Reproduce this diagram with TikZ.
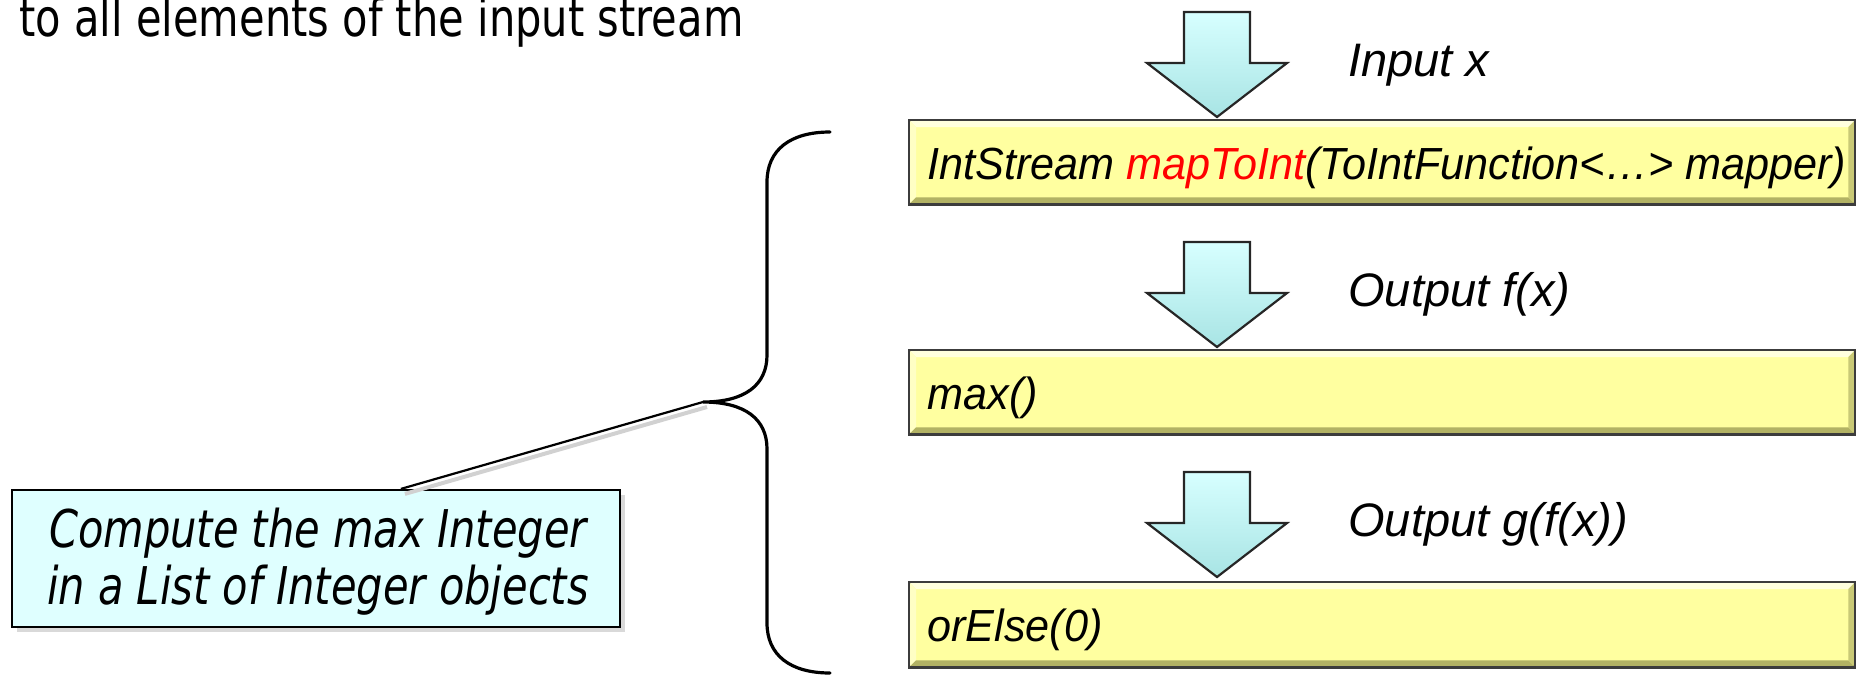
\documentclass[tikz,border=0pt]{standalone}
\usepackage{fontspec}
\setmainfont{Liberation Sans}
\newfontfamily\tahoma[FakeStretch=0.8]{DejaVu Sans}
\newfontfamily\boxfont[FakeStretch=0.96]{Liberation Sans}
\usetikzlibrary{calc,shadows}
\definecolor{boxyellow}{RGB}{255,255,160}
\definecolor{bevlight}{RGB}{255,255,222}
\definecolor{bevdark}{RGB}{178,178,100}
\definecolor{boxline}{RGB}{60,60,60}
\definecolor{calloutfill}{RGB}{223,255,255}
\definecolor{arrowlight}{RGB}{215,255,255}
\definecolor{arrowdark}{RGB}{168,228,228}
\definecolor{mapred}{RGB}{255,0,0}
\newcommand\yellowbevel[1]{%
  \fill[bevlight] (#1.north west) -- (#1.north east) -- ($(#1.north east)+(-7,7)$) -- ($(#1.north west)+(7,7)$) -- cycle;
  \fill[bevlight!60!boxyellow] (#1.north west) -- ($(#1.north west)+(7,7)$) -- ($(#1.south west)+(7,-7)$) -- (#1.south west) -- cycle;
  \fill[bevdark] (#1.south west) -- ($(#1.south west)+(7,-7)$) -- ($(#1.south east)+(-7,-7)$) -- (#1.south east) -- cycle;
  \fill[bevdark!70!boxyellow] (#1.north east) -- ($(#1.north east)+(-7,7)$) -- ($(#1.south east)+(-7,-7)$) -- (#1.south east) -- cycle;
  \draw[boxline,line width=1.2pt] (#1.north west) rectangle (#1.south east);
}
\newcommand\blockarrow[2]{% center x, top y
  \shadedraw[top color=arrowlight, bottom color=arrowdark, draw=black!85, line width=1.1pt, line join=miter]
    (#1-33,#2) -- (#1+33,#2) -- (#1+33,#2+51) -- (#1+70,#2+51) -- (#1,#2+105)
    -- (#1-70,#2+51) -- (#1-33,#2+51) -- cycle;
}
\begin{document}
\begin{tikzpicture}[x=0.5pt,y=-0.5pt,
  opbox/.style={draw=boxline, fill=boxyellow, line width=1.2pt, inner sep=0pt, anchor=north west,
     minimum width=472pt, minimum height=41pt,
     drop shadow={shadow xshift=1.5pt, shadow yshift=-1.5pt, opacity=0.35}},
  optext/.style={anchor=base west, inner sep=0pt, font=\boxfont\itshape\fontsize{22.5}{27}\selectfont},
  flowlabel/.style={anchor=base west, inner sep=0pt, font=\itshape\fontsize{23.5}{28}\selectfont},
  callout/.style={draw=black, fill=calloutfill, line width=1.1pt, minimum width=304pt, minimum height=68.5pt,
     inner sep=0pt, drop shadow={shadow xshift=2.5pt, shadow yshift=-2.5pt, opacity=0.3}},
  callouttext/.style={align=center, inner sep=0pt, font=\tahoma\itshape\fontsize{26}{28.5}\selectfont},
  bracestyle/.style={line width=1.6pt, line cap=round}
]
\useasboundingbox (0,0) rectangle (1856,675);

% intro text (cut at top)
\node[anchor=base west, inner sep=0pt, font=\tahoma\fontsize{26}{30}\selectfont] (intro) at (19,36) {to all elements of the input stream};

% block arrows
\blockarrow{1217}{12}
\blockarrow{1217}{242}
\blockarrow{1217}{472}

% flow labels
\node[flowlabel] (lblin) at (1348,76) {Input x};
\node[flowlabel] (lblf) at (1348,306) {Output f(x)};
\node[flowlabel] (lblg) at (1348,536) {Output g(f(x))};

% operation boxes
\node[opbox] (box1) at (909,120) {};
\yellowbevel{box1}
\node[opbox] (box2) at (909,350) {};
\yellowbevel{box2}
\node[opbox, minimum height=41.5pt] (box3) at (909,582) {};
\yellowbevel{box3}

\node[optext] (t1) at ($(box1.west)+(18,17)$) {IntStream \textcolor{mapred}{mapToInt}(ToIntFunction<…> mapper)};
\node[optext] (t2) at ($(box2.west)+(18,17)$) {max()};
\node[optext] (t3) at ($(box3.west)+(18,17)$) {orElse(0)};

% brace
\coordinate (bracetop) at (830,132);
\coordinate (bracetip) at (703,402);
\coordinate (bracebot) at (830,673);
\draw[bracestyle] (bracetop) .. controls (790,132) and (767,150) .. (767,182)
   -- (767,355) .. controls (767,385) and (745,402) .. (bracetip)
   .. controls (745,402) and (767,419) .. (767,449)
   -- (767,623) .. controls (767,655) and (790,673) .. (bracebot);

% callout
\node[callout] (note) at (316,558.5) {};
\node[callouttext] (notetext) at (318,562) {Compute the max Integer\\in a List of Integer objects};
\coordinate (notetop) at ($(note.north west)+(390,0)$);
\draw[black!18, line width=2pt] ($(notetop)+(4,5)$) -- ($(bracetip)+(4,5)$);
\draw[black, line width=1.1pt] (notetop) -- (bracetip);
\end{tikzpicture}
\end{document}
